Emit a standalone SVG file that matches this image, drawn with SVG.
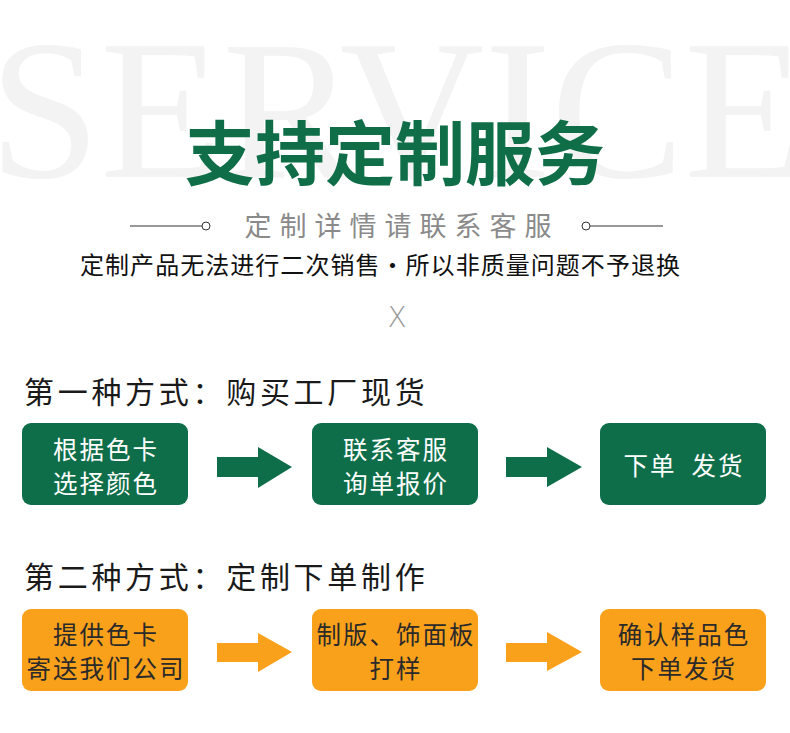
<svg xmlns="http://www.w3.org/2000/svg" width="790" height="733" viewBox="0 0 790 733">
<style>
.cjk{font-family:"Noto Sans CJK SC","Noto Sans",sans-serif;}
.wm{font-family:"Liberation Serif",serif;font-size:200px;fill:#f3f3f3;}
.title{font-size:70px;font-weight:bold;fill:#0f6e47;}
.sub{font-size:27px;fill:#8a8a8a;letter-spacing:8px;}
.note{font-size:24px;fill:#111;}
.head{font-size:30px;fill:#1a1a1a;letter-spacing:3.7px;}
.g{fill:#0f6e4a;}
.o{fill:#faa11b;}
.tw{font-size:24.5px;fill:#fff;text-anchor:middle;letter-spacing:2px;}
.td{font-size:24.5px;fill:#2a2a2a;text-anchor:middle;letter-spacing:2px;}
.ln{stroke:#333;stroke-width:1;fill:none;}
</style>
<rect width="790" height="733" fill="#fff"/>
<g id="watermark"><text class="wm" x="-11" y="177">SERVICE</text></g>
<g id="header">
<text class="cjk title" x="395" y="180" text-anchor="middle">支持定制服务</text>
<line class="ln" x1="130" y1="226" x2="202" y2="226"/>
<circle class="ln" cx="206" cy="226" r="4"/>
<circle class="ln" cx="586" cy="226" r="4"/>
<line class="ln" x1="590" y1="226" x2="663" y2="226"/>
<text class="cjk sub" x="402" y="236" text-anchor="middle">定制详情请联系客服</text>
<text class="cjk note" x="380" y="274" text-anchor="middle" textLength="600">定制产品无法进行二次销售·所以非质量问题不予退换</text>
<text x="397" y="327" text-anchor="middle" font-family="DejaVu Sans,sans-serif" font-weight="200" font-size="28" fill="#9a9a9a">X</text>
</g>
<g id="heading1"><text class="cjk head" x="24" y="403">第一种方式：购买工厂现货</text></g>
<g id="heading2"><text class="cjk head" x="24" y="588">第二种方式：定制下单制作</text></g>
<g id="n1"><rect class="g" x="22" y="423" width="166" height="82" rx="9"/>
<text class="cjk tw" x="106" y="459">根据色卡</text><text class="cjk tw" x="106" y="493">选择颜色</text></g>
<g id="n2"><rect class="g" x="312" y="423" width="166" height="82" rx="9"/>
<text class="cjk tw" x="396" y="459">联系客服</text><text class="cjk tw" x="396" y="493">询单报价</text></g>
<g id="n3"><rect class="g" x="600" y="423" width="166" height="82" rx="9"/>
<text class="cjk tw" x="684" y="475" xml:space="preserve">下单  发货</text></g>
<g id="n4"><rect class="o" x="22" y="609" width="166" height="82" rx="9"/>
<text class="cjk td" x="106" y="644">提供色卡</text><text class="cjk td" x="106" y="678">寄送我们公司</text></g>
<g id="n5"><rect class="o" x="312" y="609" width="166" height="82" rx="9"/>
<text class="cjk td" x="396" y="644">制版、饰面板</text><text class="cjk td" x="396" y="678">打样</text></g>
<g id="n6"><rect class="o" x="600" y="609" width="166" height="82" rx="9"/>
<text class="cjk td" x="684" y="644">确认样品色</text><text class="cjk td" x="684" y="678">下单发货</text></g>
<g id="connectors">
<polygon class="g" points="217,457 258,457 258,447 292,467 258,488 258,477 217,477"/>
<polygon class="g" points="506,457 547,457 547,447 582,467 547,487 547,477 506,477"/>
<polygon class="o" points="217,643 258,643 258,633 292,652 258,672 258,662 217,662"/>
<polygon class="o" points="506,643 547,643 547,632 582,652 547,671 547,662 506,662"/>
</g>
</svg>
